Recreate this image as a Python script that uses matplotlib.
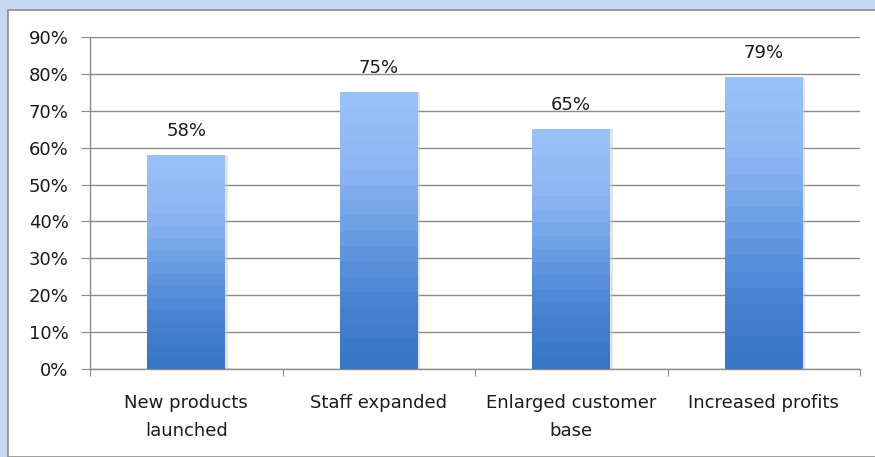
import numpy as np
import matplotlib.pyplot as plt
from matplotlib.colors import LinearSegmentedColormap
from matplotlib.patches import Rectangle
from matplotlib.ticker import PercentFormatter

categories = ["New products\nlaunched", "Staff expanded", "Enlarged customer\nbase", "Increased profits"]
values = [58, 75, 65, 79]

plt.rcParams['font.family'] = ['DejaVu Sans']
text_color = "#1a1a1a"
grid_color = "#8a8a8a"

fig = plt.figure(figsize=(8.75, 4.57), dpi=100)
fig.patch.set_facecolor("#c6d9f0")

# white chart area with thin grey border
fig.patches.append(Rectangle((8 / 875, 0), 1, 1 - 10 / 457, transform=fig.transFigure,
                             facecolor="white", edgecolor="#8c8c8c", linewidth=1.2, zorder=-10))

ax = fig.add_axes([90 / 875, 1 - 369 / 457, 770 / 875, 332 / 457])
ax.set_facecolor("none")

# banded vertical gradient, dark at the bottom and light at the top
cmap = LinearSegmentedColormap.from_list("barfill", ["#3a76c6", "#4a85d3", "#6c9fe4", "#8db6f3", "#98c1f7"], N=18)
grad = np.linspace(0, 1, 256).reshape(-1, 1)

x = np.arange(len(categories))
width = 0.405
bars = ax.bar(x, values, width=width, color="none", edgecolor="none", zorder=3)
for bar, v in zip(bars, values):
    x0 = bar.get_x()
    # soft shadow on the right edge
    ax.add_patch(Rectangle((x0 + 0.012, 0), width, v, facecolor="#c8c8c8", alpha=0.5,
                           edgecolor="none", zorder=2))
    ax.imshow(grad, extent=[x0, x0 + width, 0, v], origin="lower", cmap=cmap,
              aspect="auto", zorder=3, interpolation="nearest")
    ax.annotate(f"{v}%", (bar.get_x() + width / 2, v), xytext=(0, 11), textcoords="offset points",
                ha="center", va="bottom", fontsize=13, color=text_color)

ax.set_xlim(-0.5, len(categories) - 0.5)
ax.set_ylim(0, 90)
ax.set_yticks(np.arange(0, 91, 10))
ax.yaxis.set_major_formatter(PercentFormatter(decimals=0))
ax.grid(axis="y", color=grid_color, linewidth=1.0, zorder=1)
ax.set_axisbelow(True)

ax.set_xticks(np.arange(-0.5, len(categories)))
ax.set_xticklabels([])
ax.set_xticks(x, minor=True)
ax.set_xticklabels(categories, minor=True, fontsize=13, color=text_color, linespacing=1.75)
ax.tick_params(axis="x", which="minor", length=0, pad=18)
ax.tick_params(axis="x", which="major", length=5, color=grid_color)
ax.tick_params(axis="y", length=6.5, color=grid_color, labelsize=13, labelcolor=text_color, pad=9)

for side in ("top", "right"):
    ax.spines[side].set_visible(False)
for side in ("left", "bottom"):
    ax.spines[side].set_color(grid_color)
    ax.spines[side].set_linewidth(1.0)

fig.savefig("out.png", dpi=100)
